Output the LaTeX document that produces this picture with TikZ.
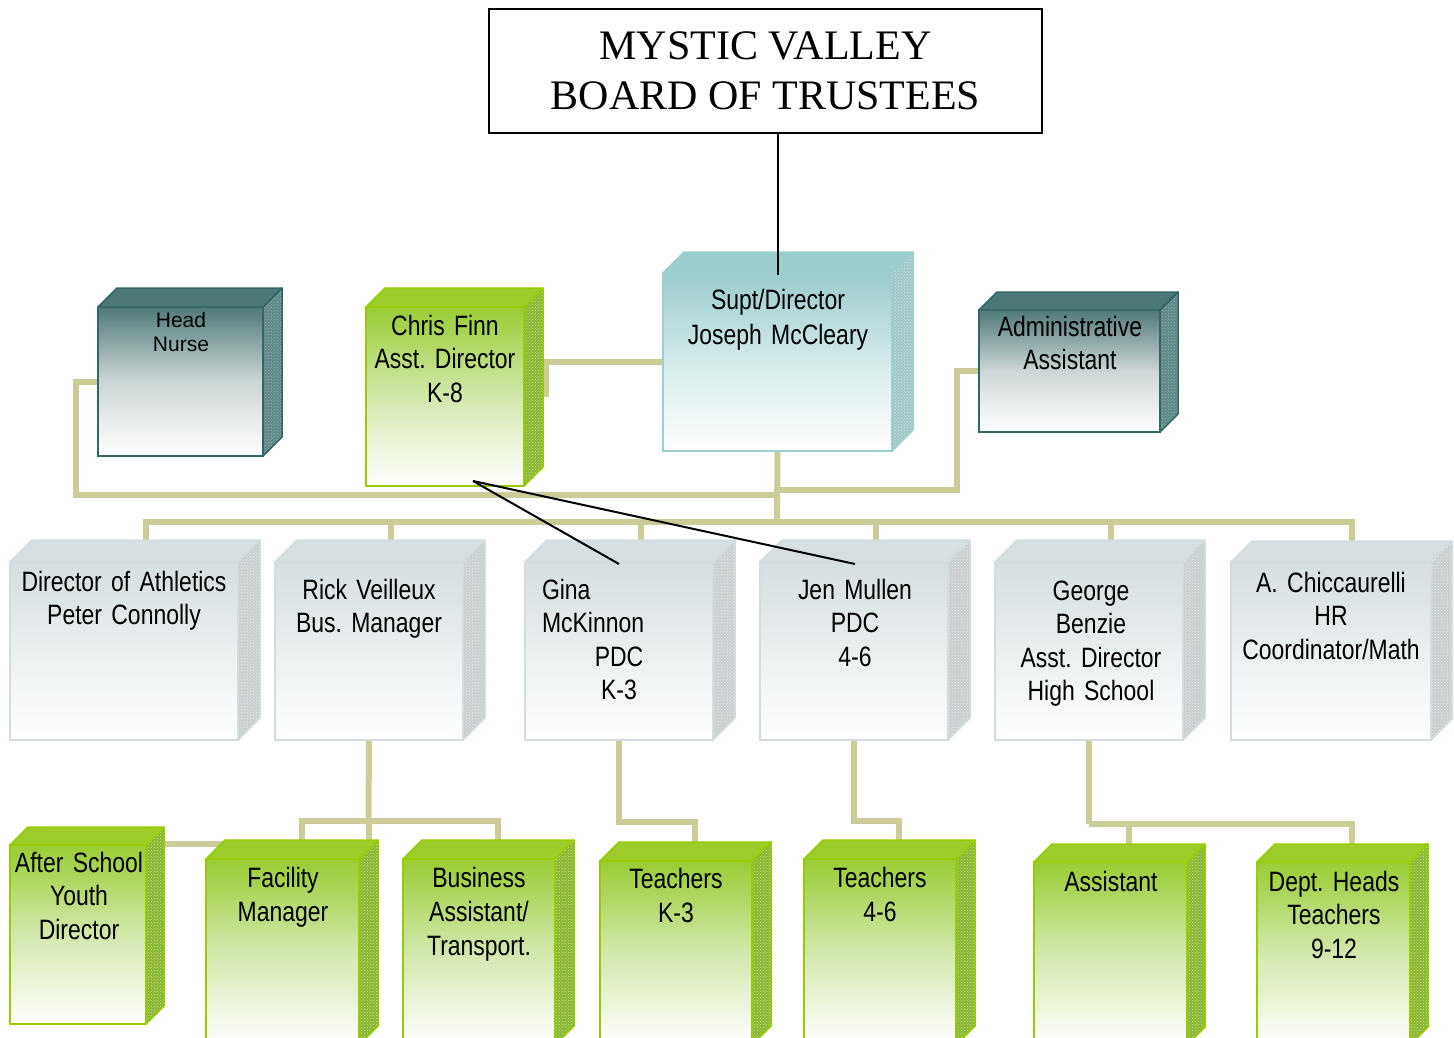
\documentclass[tikz,border=0pt]{standalone}
\usepackage{fontspec}
\usetikzlibrary{patterns}
\newfontfamily\nar[FakeStretch=0.82,WordSpace=0.7]{Liberation Sans}
\newfontfamily\ari{Liberation Sans}
\newfontfamily\tim{Liberation Serif}
\frenchspacing
\definecolor{tanc}{HTML}{CCCC99}
\definecolor{dkE}{HTML}{336666}
\definecolor{dkT}{HTML}{4A7876}
\definecolor{dkS}{HTML}{5E8886}
\definecolor{dkP}{HTML}{9DB5B4}
\definecolor{dkF}{HTML}{4F7A78}
\definecolor{dkM}{HTML}{CDD6D6}
\definecolor{spE}{HTML}{9CCFCF}
\definecolor{spT}{HTML}{9CCDCD}
\definecolor{spS}{HTML}{A2C6C6}
\definecolor{spP}{HTML}{D6E6E6}
\definecolor{spF}{HTML}{99CCCC}
\definecolor{spM}{HTML}{D5EAEA}
\definecolor{gyE}{HTML}{D3DDE0}
\definecolor{gyT}{HTML}{D6DFE2}
\definecolor{gyS}{HTML}{C8CDCE}
\definecolor{gyP}{HTML}{ECEFEF}
\definecolor{gyF}{HTML}{D5DEE1}
\definecolor{gyM}{HTML}{EAEFF0}
\definecolor{gnE}{HTML}{99CC00}
\definecolor{gnT}{HTML}{9DCC2A}
\definecolor{gnS}{HTML}{88B52E}
\definecolor{gnP}{HTML}{D0E4A8}
\definecolor{gnF}{HTML}{99CC33}
\definecolor{gnM}{HTML}{D3E8AC}
\tikzset{
  conn/.style={draw=tanc, line width=6pt},
  blk/.style={draw=black, line width=2pt},
  dkfront/.style={draw=dkE, line width=1.5pt, top color=dkF, bottom color=white, middle color=dkM},
  dktopf/.style={fill=dkT, draw=dkE, line width=1.5pt, line join=round},
  dkside/.style={preaction={fill=dkS}, pattern=crosshatch dots, pattern color=dkP, draw=dkE, line width=1.5pt, line join=round},
  spfront/.style={draw=spE, line width=1.5pt, top color=spF, bottom color=white, middle color=spM},
  sptopf/.style={fill=spT, draw=spE, line width=1.5pt, line join=round},
  spside/.style={preaction={fill=spS}, pattern=crosshatch dots, pattern color=spP, draw=spE, line width=1.5pt, line join=round},
  gyfront/.style={draw=gyE, line width=1.5pt, top color=gyF, bottom color=white, middle color=gyM},
  gytopf/.style={fill=gyT, draw=gyE, line width=1.5pt, line join=round},
  gyside/.style={preaction={fill=gyS}, pattern=crosshatch dots, pattern color=gyP, draw=gyE, line width=1.5pt, line join=round},
  gnfront/.style={draw=gnE, line width=1.5pt, top color=gnF, bottom color=white, middle color=gnM},
  gntopf/.style={fill=gnT, draw=gnE, line width=1.5pt, line join=round},
  gnside/.style={preaction={fill=gnS}, pattern=crosshatch dots, pattern color=gnP, draw=gnE, line width=1.5pt, line join=round},
  lbl/.style={anchor=base, align=center, inner sep=0pt, text width=240pt,
    font=\nar\fontsize{28}{33.5}\selectfont},
  lblb/.style={lbl, font=\nar\fontsize{28}{34}\selectfont},
  smlbl/.style={anchor=base, align=center, inner sep=0pt, text width=160pt, font=\ari\fontsize{21}{24}\selectfont},
}
\newcommand\cubebox[7]{%
  \node[#7front, anchor=north west, inner sep=0pt, outer sep=0pt,
        minimum width={#4-#2}, minimum height={#5-#3}] (#1) at (#2,#3) {};
  \filldraw[#7side] (#1.north east) -- ++(#6,-#6) -- ++(0,{#5-#3}) -- (#1.south east) -- cycle;
  \filldraw[#7topf] (#1.north west) -- ++(#6,-#6) -- ++({#4-#2},0) -- (#1.north east) -- cycle;
  \coordinate (#1-top) at ([shift={(#6,-#6)}]#1.north);
}
\pgfdeclarelayer{bg}
\pgfsetlayers{bg,main}
\begin{document}
\begin{tikzpicture}[x=1pt,y=-1pt]
\useasboundingbox (0,0) rectangle (1454,1038);
\clip (0,0) rectangle (1454,1038);

% board
\node[draw=black, line width=1.5pt, fill=white, minimum width=553pt, minimum height=124pt,
      inner sep=0pt, outer sep=0pt, anchor=north west, align=center,
      font=\tim\fontsize{42}{50}\selectfont] (board) at (489,9)
      {MYSTIC VALLEY\\BOARD OF TRUSTEES};

% named junction points of the connector buses
\coordinate (lbus) at (777,495);
\coordinate (rbus) at (777,490);
\coordinate (mainbus) at (777,522);
\coordinate (rj) at (368.5,821);
\coordinate (aj) at (368.5,844);

\cubebox{hn}{98}{307}{263}{456}{19}{dk}
\cubebox{cf}{366}{307}{524}{486}{19}{gn}
\cubebox{supt}{663}{273}{892}{451}{21}{sp}
\cubebox{adm}{979}{310}{1160}{432}{18}{dk}
\cubebox{ath}{10}{562}{238}{740}{22}{gy}
\cubebox{rick}{275}{562}{463}{740}{22}{gy}
\cubebox{gina}{525}{562}{713}{740}{22}{gy}
\cubebox{jen}{760}{562}{948}{740}{22}{gy}
\cubebox{geo}{995}{562}{1183}{740}{22}{gy}
\cubebox{chic}{1231}{562}{1431}{740}{21}{gy}
\cubebox{asyd}{10}{845}{146}{1024}{18}{gn}
\cubebox{fac}{206}{859}{359}{1045}{19}{gn}
\cubebox{bas}{403}{859}{555}{1045}{19}{gn}
\cubebox{tk}{600}{861}{752}{1045}{19}{gn}
\cubebox{tf}{804}{859}{956}{1045}{19}{gn}
\cubebox{asst}{1034}{862}{1187}{1045}{18}{gn}
\cubebox{dept}{1257}{862}{1410}{1045}{18}{gn}

\begin{pgfonlayer}{bg}
  \draw[conn] (hn.west) -- ++(-22,0) |- (lbus);
  \draw[conn] (adm.west) -- ++(-22,0) |- (rbus);
  \draw[conn] (supt.south) -- (mainbus);
  \draw[conn] (supt.west) -| ([xshift=22pt]cf.east);
  \draw[conn] (ath-top) |- (mainbus) -| (chic-top);
  \foreach \n in {rick,gina,jen,geo} { \draw[conn] (\n-top) -- (\n-top |- mainbus); }
  \draw[conn] (rick.south) -- (rj);
  \draw[conn] (fac-top) |- (rj) -| (bas-top);
  \draw[conn] (rj) -- (aj) -- (aj -| asyd.east);
  \draw[conn] (gina.south) -- ++(0,82) -| (tk-top);
  \draw[conn] (jen.south) -- ++(0,81) -| (tf-top);
  \draw[conn] (geo.south) -- ++(0,84) coordinate (gj);
  \draw[conn] (asst-top) |- (gj) -| (dept-top);
\end{pgfonlayer}

% texts
\node[smlbl] (hn-t) at (181,327.5) {Head\\Nurse};
\node[lbl] (cf-t) at (445,335) {Chris Finn\\Asst. Director\\K-8};
\node[lbl, font=\nar\fontsize{28}{35}\selectfont] (supt-t) at (778,309) {Supt/Director\\Joseph McCleary};
\node[lbl] (adm-t) at (1070,336) {Administrative\\Assistant};
\node[lbl] (ath-t) at (124,591) {Director of Athletics\\Peter Connolly};
\node[lbl] (rick-t) at (369,599) {Rick Veilleux\\Bus. Manager};
\node[lbl] (gina-t) at (619,599) {\makebox[154pt][l]{Gina}\\\makebox[154pt][l]{McKinnon}\\PDC\\K-3};
\node[lbl] (jen-t) at (855,599) {Jen Mullen\\PDC\\4-6};
\node[lbl] (geo-t) at (1091,600) {George\\Benzie\\Asst. Director\\High School};
\node[lbl] (chic-t) at (1331,592) {A. Chiccaurelli\\HR\\Coordinator/Math};
\node[lbl] (asyd-t) at (79,872) {After School\\Youth\\Director};
\node[lblb] (fac-t) at (283,887) {Facility\\Manager};
\node[lblb] (bas-t) at (479,887) {Business\\Assistant/\\Transport.};
\node[lblb] (tk-t) at (676,888) {Teachers\\K-3};
\node[lblb] (tf-t) at (880,887) {Teachers\\4-6};
\node[lbl] (asst-t) at (1111,891) {Assistant};
\node[lbl] (dept-t) at (1334,891) {Dept. Heads\\Teachers\\9-12};

% black lines
\coordinate (cfk) at ([xshift=28pt,yshift=5pt]cf.south);
\draw[blk] (supt.north |- board.south) -- ([yshift=-2pt]supt.north);
\draw[blk] (cfk) -- ([yshift=-2pt]gina.north);
\draw[blk] (cfk) -- ([yshift=-2pt,xshift=1pt]jen.north);
\end{tikzpicture}
\end{document}
